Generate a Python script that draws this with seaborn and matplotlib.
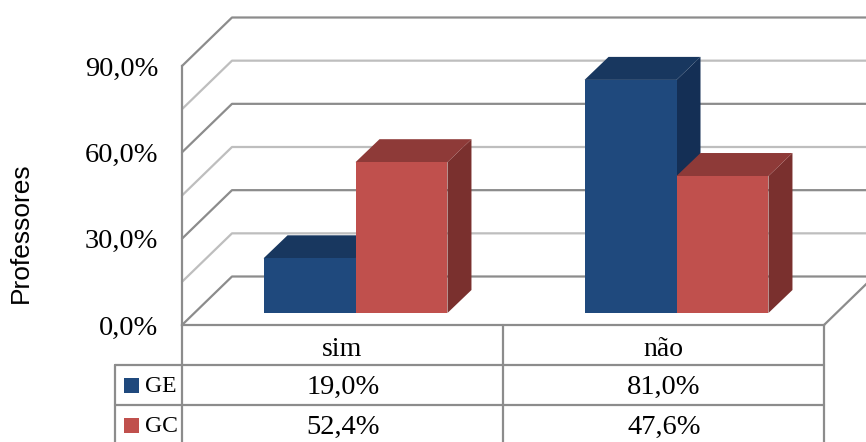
import matplotlib
matplotlib.use("Agg")
import matplotlib.pyplot as plt
import pandas as pd
import seaborn as sns
from matplotlib.patches import Polygon, Rectangle
from matplotlib.transforms import Affine2D, IdentityTransform

categories = ["sim", "não"]
series_names = ["GE", "GC"]
ge_values = [19.0, 81.0]
gc_values = [52.4, 47.6]
y_ticks = [0, 30, 60, 90]
grid_major = [0, 30, 60, 90]
grid_minor = [15, 45, 75]
colors = {"GE": "#1F497D", "GC": "#C0504D"}
top_colors = {"GE": "#18375F", "GC": "#8E3A38"}
side_colors = {"GE": "#142F55", "GC": "#7A302E"}

W, H = 866, 442
SERIF = "Liberation Serif"
sns.set_theme(style="white")
plt.rcParams["font.family"] = [SERIF, "DejaVu Serif"]

df = pd.DataFrame({
    "cat": categories * 2,
    "serie": [series_names[0]] * 2 + [series_names[1]] * 2,
    "val": ge_values + gc_values,
})

fig = plt.figure(figsize=(W / 100, H / 100), dpi=100)
ax = fig.add_axes([182 / W, 1 - 325 / H, (824 - 182) / W, (325 - 66) / H])
ax.patch.set_alpha(0)
sns.barplot(data=df, x="cat", y="val", hue="serie", order=categories, hue_order=series_names,
            palette=colors, width=0.573, saturation=1, gap=0, legend=False, ax=ax, zorder=5, linewidth=0)
ax.set_xlim(-0.5, 1.5)
ax.set_ylim(0, 90)

MAJOR, MINOR = "#8C8C8C", "#BEBEBE"
DEPTH = (50, 48.5)
px = Affine2D().scale(1, -1).translate(0, H)  # pixel coordinates with origin at top left
ident = IdentityTransform()


def seg(p, q, color, lw=1.6, z=1, tr=ident):
    fig.add_artist(plt.Line2D([p[0], q[0]], [p[1], q[1]], color=color, lw=lw, transform=tr, zorder=z))


# walls
for vals, col in ((grid_minor, MINOR), (grid_major, MAJOR)):
    for v in vals:
        a = ax.transData.transform((-0.5, v))
        b = ax.transData.transform((1.5, v))
        ab = (a[0] + DEPTH[0], a[1] + DEPTH[1])
        bb = (b[0] + DEPTH[0], b[1] + DEPTH[1])
        ax.add_line(plt.Line2D([a[0], ab[0], bb[0]], [a[1], ab[1], bb[1]], color=col, lw=1.6,
                               transform=ident, zorder=1, clip_on=False))
a = ax.transData.transform((1.5, 0))
ax.add_line(plt.Line2D([a[0], a[0] + DEPTH[0]], [a[1], a[1] + DEPTH[1]], color=MAJOR, lw=1.6,
                       transform=ident, zorder=1, clip_on=False))

# bars: front faces from seaborn, shifted to mid depth, with side and top faces
shift = Affine2D().translate(13, 12)
bar_depth = (24, 23)
labels = [s for s in series_names for _ in categories]
bars = list(ax.patches)
order = sorted(range(len(bars)), key=lambda i: bars[i].get_x())
for i in order:
    bar = bars[i]
    name = labels[i]
    x0, x1 = bar.get_x(), bar.get_x() + bar.get_width()
    h = bar.get_height()
    tl = shift.transform(ax.transData.transform((x0, h)))
    tr = shift.transform(ax.transData.transform((x1, h)))
    br = shift.transform(ax.transData.transform((x1, 0)))
    dx, dy = bar_depth
    z = 3 + i / 10 + order.index(i)
    ax.add_patch(Polygon([br, tr, tr + (dx, dy), br + (dx, dy)], closed=True, fc=side_colors[name], ec="none",
                         transform=ident, zorder=z, clip_on=False))
    ax.add_patch(Polygon([tl, tr, tr + (dx, dy), tl + (dx, dy)], closed=True, fc=top_colors[name], ec="none",
                         transform=ident, zorder=z, clip_on=False))
    bar.set_transform(ax.transData + shift)
    bar.set_clip_on(False)
    bar.set_zorder(z + 0.5)

# axes text and ticks
for s in ("top", "right"):
    ax.spines[s].set_visible(False)
for s in ("left", "bottom"):
    ax.spines[s].set_color(MAJOR)
    ax.spines[s].set_linewidth(1.6)
ax.set_yticks(y_ticks)
ax.set_yticklabels([f"{v:.1f}%".replace(".", ",") for v in y_ticks], fontsize=20.5, color="black")
down = Affine2D().translate(0, -2)
for t in ax.get_yticklabels():
    t.set_transform(t.get_transform() + down)
ax.set_xticks(range(len(categories)))
ax.set_xticklabels(categories, fontsize=20, color="black")
ax.tick_params(axis="y", length=0, pad=17)
ax.tick_params(axis="x", length=0, pad=9)
ax.set_xlabel("")
ax.set_ylabel("Professores", fontsize=19, family="Liberation Sans", color="black")
ax.yaxis.set_label_coords((33 - 182) / (824 - 182), (325 - 233) / (325 - 66))

# data table
for y, x0 in ((365, 115), (405, 115)):
    seg((x0, y), (824, y), MAJOR, tr=px)
seg((182, 325), (182, H), MAJOR, tr=px)
seg((503, 325), (503, H), MAJOR, tr=px)
seg((824, 325), (824, H), MAJOR, tr=px)
seg((115, 365), (115, H), MAJOR, tr=px)
rows = [ge_values, gc_values]
for r, (name, vals) in enumerate(zip(series_names, rows)):
    yc = 386 + 40 * r
    fig.add_artist(Rectangle((124, yc + 7), 15, -15, fc=colors[name], ec="none", transform=px))
    fig.text(145, yc + 1, name, transform=px, fontsize=17, ha="left", va="center", color="black")
    for xc, v in zip((343, 664), vals):
        fig.text(xc, yc + 1, f"{v:.1f}%".replace(".", ","), transform=px, fontsize=20.5, ha="center", va="center", color="black")

fig.savefig("out.png", dpi=100)
